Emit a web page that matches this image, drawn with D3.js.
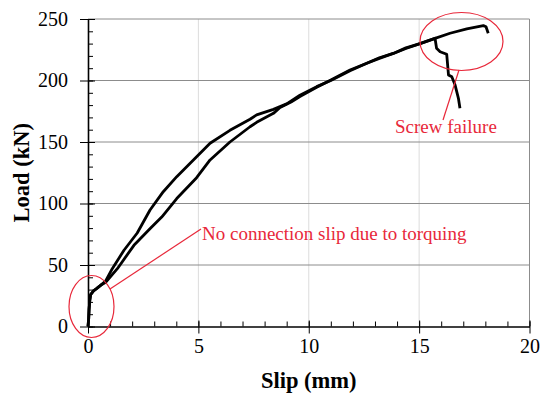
<!DOCTYPE html>
<html>
<head>
<meta charset="utf-8">
<script src="https://cdn.jsdelivr.net/npm/d3@7"></script>
<style>
  body { margin: 0; background: #fff; }
  svg { display: block; }
  text { font-family: "Liberation Serif", "Times New Roman", serif; }
</style>
</head>
<body>
<script>
'use strict';

// slip (mm) / load (kN)
const slipA = [0, 0.03, 0.05, 0.08, 0.12, 0.25, 0.4, 0.57, 0.8, 1.1, 1.63, 2.23, 2.81, 3.41, 4.02, 5.0, 5.53, 6.43, 7.34, 7.64, 8.4, 9.0, 9.6, 10.36, 11.0, 11.87, 12.63, 13.2, 13.83, 14.4, 15.04, 15.72, 16.4, 17.16, 17.91, 18.03, 18.13];
const loadA = [0, 6, 14, 21, 26, 29, 31, 33.5, 37, 47, 62, 76, 94.7, 109.6, 121.8, 139.4, 149, 159.5, 168.5, 172, 176.5, 181, 188, 195, 200, 208, 214, 218, 222, 226, 230, 234.3, 238.4, 241.9, 244.6, 243.7, 238.4];

const slipB = [0, 0.03, 0.05, 0.08, 0.12, 0.25, 0.4, 0.57, 0.8, 1.33, 2.08, 2.84, 3.34, 4.02, 4.92, 5.53, 6.43, 7.34, 7.64, 8.4, 8.7, 9.2, 9.6, 10.36, 11.0, 11.87, 12.63, 13.2, 13.83, 14.4, 15.04, 15.72, 15.79, 15.95, 16.25, 16.33, 16.48, 16.63, 16.78, 16.85];
const loadB = [0, 6, 14, 21, 26, 29, 31, 33.5, 36, 47, 66, 80, 89, 104, 121, 135.4, 150, 162.4, 166, 173.3, 178, 182.5, 187, 194.5, 200.5, 208.5, 214, 218.5, 222, 226.5, 230, 234.3, 226.2, 223.4, 221.3, 204.5, 203, 196.3, 185.5, 177.4];

const xTicks = [0, 5, 10, 15, 20];
const yTicks = [0, 50, 100, 150, 200, 250];
const xMinorTicks = d3.range(0, 21, 1);
const yMinorTicks = d3.range(0, 251, 10);

const msm = { width: 542, height: 394, left: 88, right: 12.5, top: 19, bottom: 67.5 };
const red = '#e8283a';

const svg = d3.select('body').append('svg')
  .attr('width', msm.width)
  .attr('height', msm.height);

const xScale = d3.scaleLinear().domain([0, 20]).range([msm.left, msm.width - msm.right]);
const yScale = d3.scaleLinear().domain([0, 250]).range([msm.height - msm.bottom, msm.top]);

// gridlines
svg.append('g').selectAll('line')
  .data(xTicks.slice(1, -1))
  .enter().append('line')
  .attr('x1', d => xScale(d)).attr('x2', d => xScale(d))
  .attr('y1', yScale(0)).attr('y2', yScale(250))
  .attr('stroke', '#dcdcdc').attr('stroke-width', 1);

svg.append('g').selectAll('line')
  .data(yTicks.slice(1))
  .enter().append('line')
  .attr('x1', xScale(0)).attr('x2', xScale(20))
  .attr('y1', d => yScale(d)).attr('y2', d => yScale(d))
  .attr('stroke', '#8c8c8c').attr('stroke-width', 1);

// right border
svg.append('line')
  .attr('x1', xScale(20)).attr('x2', xScale(20))
  .attr('y1', yScale(0)).attr('y2', yScale(250))
  .attr('stroke', '#8c8c8c').attr('stroke-width', 1);

// minor ticks (inside)
svg.append('g')
  .attr('transform', 'translate(' + xScale(0) + ',0)')
  .call(d3.axisLeft(yScale).tickValues(yMinorTicks).tickSize(-5).tickFormat(''))
  .call(g => g.select('.domain').remove());
svg.append('g')
  .attr('transform', 'translate(0,' + yScale(0) + ')')
  .call(d3.axisBottom(xScale).tickValues(xMinorTicks).tickSize(-5).tickFormat(''))
  .call(g => g.select('.domain').remove());

// major ticks crossing the axes
svg.append('g')
  .attr('transform', 'translate(' + xScale(0) + ',0)')
  .call(d3.axisRight(yScale).tickValues(yTicks).tickSize(7).tickFormat(''))
  .call(g => g.select('.domain').remove());
svg.append('g')
  .attr('transform', 'translate(0,' + yScale(0) + ')')
  .call(d3.axisTop(xScale).tickValues(xTicks).tickSize(6).tickFormat(''))
  .call(g => g.select('.domain').remove());

// labelled axes
const yAxis = svg.append('g')
  .attr('transform', 'translate(' + xScale(0) + ',0)')
  .call(d3.axisLeft(yScale).tickValues(yTicks).tickSize(8).tickPadding(12).tickSizeOuter(0));
const xAxis = svg.append('g')
  .attr('transform', 'translate(0,' + yScale(0) + ')')
  .call(d3.axisBottom(xScale).tickValues(xTicks).tickSize(7).tickPadding(5).tickSizeOuter(0));

[yAxis, xAxis].forEach(g => {
  g.select('.domain').attr('stroke', '#000').attr('stroke-width', 1.6);
  g.selectAll('text')
    .attr('fill', '#000')
    .style('font-size', '20px')
    .style('font-family', '"Liberation Serif", serif');
});
svg.selectAll('.tick line').attr('stroke', '#000').attr('stroke-width', 1);

// axis titles
svg.append('text')
  .attr('x', (xScale(0) + xScale(20)) / 2)
  .attr('y', 388)
  .attr('text-anchor', 'middle')
  .style('font-size', '22.5px')
  .style('font-weight', 'bold')
  .text('Slip (mm)');

svg.append('text')
  .attr('transform', 'translate(29,' + (yScale(125) + 0) + ') rotate(-90)')
  .attr('text-anchor', 'middle')
  .style('font-size', '22.5px')
  .style('font-weight', 'bold')
  .text('Load (kN)');

// curves
const line = d3.line()
  .x(d => xScale(d[0]))
  .y(d => yScale(d[1]));

[[slipA, loadA], [slipB, loadB]].forEach(s => {
  svg.append('path')
    .datum(d3.zip(s[0], s[1]))
    .attr('fill', 'none')
    .attr('stroke', '#000')
    .attr('stroke-width', 2.8)
    .attr('stroke-linejoin', 'round')
    .attr('d', line);
});

// annotations
svg.append('ellipse')
  .attr('cx', 91.5).attr('cy', 306.5).attr('rx', 22.5).attr('ry', 31)
  .attr('fill', 'none').attr('stroke', red).attr('stroke-width', 1.2);
svg.append('line')
  .attr('x1', 110).attr('y1', 289).attr('x2', 201).attr('y2', 229)
  .attr('stroke', red).attr('stroke-width', 1.2);
svg.append('text')
  .attr('x', 202).attr('y', 240)
  .attr('fill', red)
  .style('font-size', '19px')
  .text('No connection slip due to torquing');

svg.append('ellipse')
  .attr('cx', 461.5).attr('cy', 41.5).attr('rx', 41.5).attr('ry', 29)
  .attr('fill', 'none').attr('stroke', red).attr('stroke-width', 1.2);
svg.append('line')
  .attr('x1', 459).attr('y1', 70).attr('x2', 443).attr('y2', 120)
  .attr('stroke', red).attr('stroke-width', 1.2);
svg.append('text')
  .attr('x', 395).attr('y', 133)
  .attr('fill', red)
  .style('font-size', '19px')
  .text('Screw failure');
</script>
</body>
</html>
